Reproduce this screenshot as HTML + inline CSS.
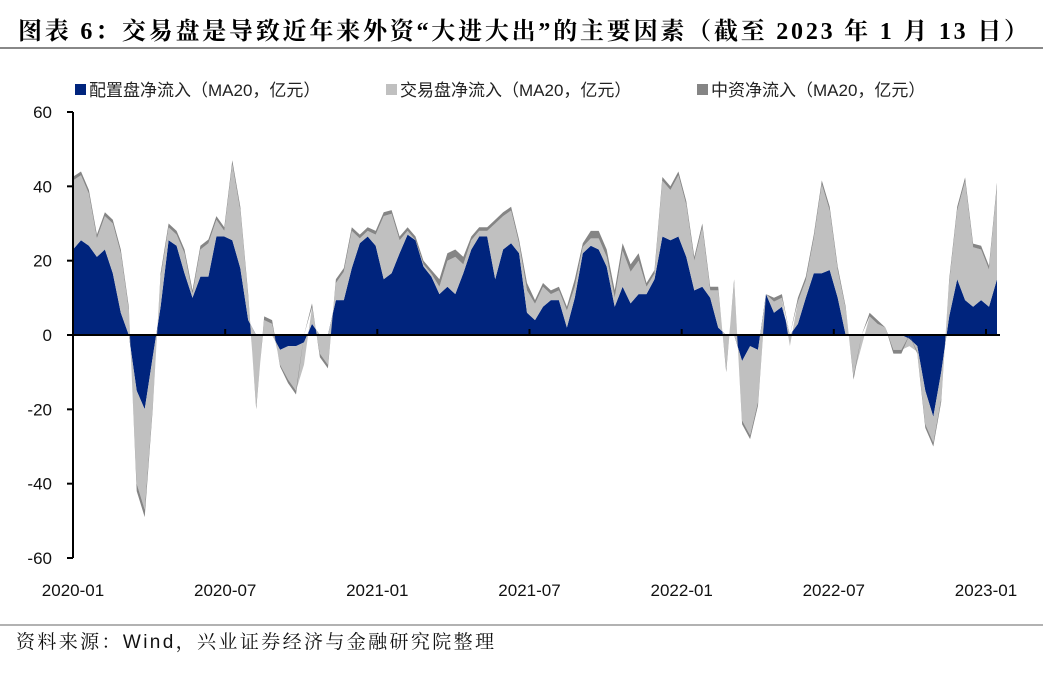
<!DOCTYPE html>
<html><head><meta charset="utf-8">
<style>
body{margin:0;background:#fff;width:1043px;height:676px;overflow:hidden;}
svg text{font-family:"Liberation Sans","Noto Sans CJK SC",sans-serif;}
</style></head>
<body>
<svg id="chart" width="1043" height="676" viewBox="0 0 1043 676">
<text x="18" y="39" font-size="24" font-weight="bold" fill="#000" textLength="1010" lengthAdjust="spacing" style="font-family:'Liberation Serif','Noto Serif CJK SC',serif">图表 6：交易盘是导致近年来外资“大进大出”的主要因素（截至 2023 年 1 月 13 日）</text>
<line x1="0" y1="48" x2="1043" y2="48" stroke="#888" stroke-width="2"/>
<g>
<rect x="75" y="84" width="11" height="11" fill="#00247d"/>
<text x="89" y="96" font-size="17" fill="#222">配置盘净流入（MA20，亿元）</text>
<rect x="386" y="84" width="11" height="11" fill="#c0c0c0"/>
<text x="400" y="96" font-size="17" fill="#222">交易盘净流入（MA20，亿元）</text>
<rect x="697" y="84" width="11" height="11" fill="#858585"/>
<text x="711" y="96" font-size="17" fill="#222">中资净流入（MA20，亿元）</text>
</g>
<g id="marks"></g>
<g id="axes"></g>
<line x1="0" y1="625" x2="1043" y2="625" stroke="#999" stroke-width="1.5"/>
<text x="16" y="648" font-size="19" fill="#111" textLength="478" lengthAdjust="spacing" style="font-family:'Liberation Sans','Noto Serif CJK SC',serif">资料来源：Wind，兴业证券经济与金融研究院整理</text>
</svg>
<script>
const peizhi=[23,25.5,24,21,23,16.6,6,0,-15,-20,-6,7.6,25.5,24,16.6,10,15.7,15.7,26.5,26.5,25.5,18,4,0,0,0,-4,-3,-3,-2,3,0,0,9.4,9.4,18,24.7,26.5,24,15,16.6,22,27,25.5,18.4,15.7,11,13,11,16.6,23,26.5,26.5,15,23,24.7,22,6,4,7.6,9.4,9.4,2,10,22,24,23,18.4,7.6,13,8.5,11,11,15,26.5,25.5,26.5,21,12,13,10,2,0,0,-7,-3,-4,11,6,7.6,0,3,10,16.6,16.6,17.5,10,0,0,0,0,0,0,0,0,-1,-3,-15,-22,-10,5,15,9.4,7.6,9.4,7.6,15];
const jiaoyi=[18.6,17.5,14,5,9,13.4,16,6.6,-25,-27,-13,8,3.5,3,5.4,1,7.3,9,4.5,1.5,20.5,15.5,6,-19,4,3,-4,-9,-12,-6,4.5,-5,-8,4.6,7.6,10,1.3,1.5,3,17,16,3.5,1,0,0.6,0.8,2,7,10,2.4,2.5,1.5,1.5,15,9,8.8,2.6,6,4.4,5.4,1.6,2.6,4.6,3,1.7,2,3,2.6,2.4,9.7,8.5,9,2,1.5,15,13.5,16.5,14,8,16,2,10,-9,14,-16,-24,-14,0,3,2.4,-3,6,4.7,9.4,24,16,7.4,7,-11,-3,5,3,2,-4,-4,-2,-1.5,-9,-7,-7,9,18.5,32,16,13.6,10,25];
const zhongzi=[1,1,1,1,1,1,1,1,-2,-2,-1,1,1,1,1,1,1,1,1,1,1,1,1,-1,1,1,-0.5,-1,-1,0,1,-1,-1,1,1,1,1,1,1,1,1,1,1,1,1,1,2,2,2,2,1,1,1,1,1,1,1,2,1,1,1,1,1,2,1,2,2,2,2,2,2,2,1,1,1,1,1,1,1,1,1,1,-1,1,-1,-1,-1,0,1,1,0,1,1,1,1,1,1,0.6,-1,0,1,1,0,-1,-1,0,-0.5,-1,-1,-1,1,1,1,1,1,1,1];
const yTicks=[60,40,20,0,-20,-40,-60];
const xTickLabels=["2020-01","2020-07","2021-01","2021-07","2022-01","2022-07","2023-01"];
const xTickFrac=[0,0.1667,0.3333,0.5,0.6667,0.8333,1];
const NS='http://www.w3.org/2000/svg';
const X0=73,X1=997,Y0=335,PPU=223/60;
const xS=i=>X0+(X1-X0)*i/(peizhi.length-1);
const yS=v=>Y0-v*PPU;
const xMonth=f=>73+f*(986-73);
const marks=document.getElementById('marks');
const series=[[peizhi,'#00247d','area-peizhi'],[jiaoyi,'#c0c0c0','area-jiaoyi'],[zhongzi,'#858585','area-zhongzi']];
const pos=peizhi.map(()=>0),neg=peizhi.map(()=>0);
series.forEach(([arr,col,name])=>{
  const up=[],lo=[];
  arr.forEach((v,i)=>{
    let a,b;
    if(v>=0){a=pos[i];b=pos[i]+v;pos[i]=b;}else{a=neg[i];b=neg[i]+v;neg[i]=b;}
    up.push(xS(i).toFixed(1)+','+yS(b).toFixed(1));
    lo.push(xS(i).toFixed(1)+','+yS(a).toFixed(1));
  });
  const p=document.createElementNS(NS,'polygon');
  p.setAttribute('points',up.concat(lo.reverse()).join(' '));
  p.setAttribute('fill',col);
  
  
  marks.appendChild(p);
});
const axes=document.getElementById('axes');
function el(tag,attrs,txt){const e=document.createElementNS(NS,tag);for(const k in attrs)e.setAttribute(k,attrs[k]);if(txt!=null)e.textContent=txt;axes.appendChild(e);return e;}
const ya=el('line',{x1:73,y1:yS(60),x2:73,y2:yS(-60),stroke:'#000','stroke-width':2});


yTicks.forEach(t=>{
  const tk=el('line',{x1:67,y1:yS(t),x2:73,y2:yS(t),stroke:'#000','stroke-width':2});
  
  
  const lb=el('text',{x:52,y:yS(t)+6,'font-size':17,'text-anchor':'end',fill:'#111'},String(t));
  
  
});
const xa=el('line',{x1:73,y1:Y0,x2:1000,y2:Y0,stroke:'#000','stroke-width':2});


xTickLabels.forEach((l,i)=>{
  const x=xMonth(xTickFrac[i]);
  const tk=el('line',{x1:x,y1:Y0,x2:x,y2:Y0-6,stroke:'#000','stroke-width':2});
  
  
  const lb=el('text',{x:x,y:596,'font-size':17,'text-anchor':'middle',fill:'#111'},l);
  
  
});
</script>
</body></html>
